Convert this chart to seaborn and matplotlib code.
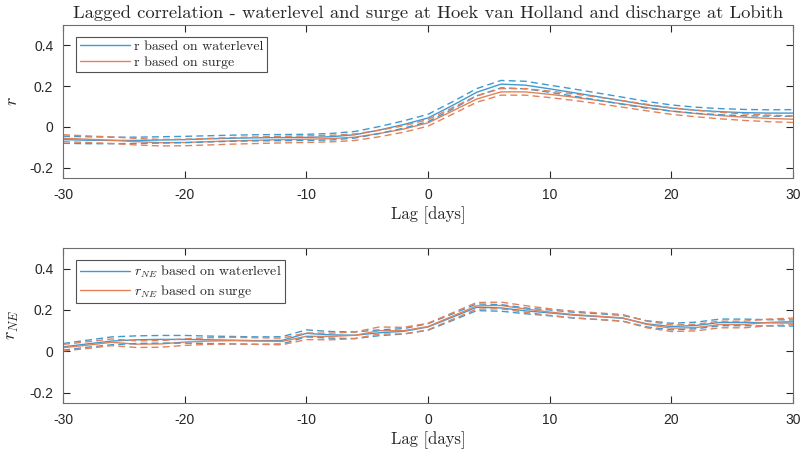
import numpy as np
import pandas as pd
import matplotlib
matplotlib.use("Agg")
import matplotlib.pyplot as plt
import seaborn as sns

lags = list(range(-30, 31, 2))

# Top panel: r
r_wl = [-0.062, -0.065, -0.066, -0.066, -0.064, -0.062, -0.058, -0.055, -0.053, -0.052, -0.051,
        -0.048, -0.038, -0.015, 0.012, 0.044, 0.105, 0.170, 0.210, 0.205, 0.187, 0.168, 0.148,
        0.128, 0.108, 0.093, 0.082, 0.075, 0.070, 0.068, 0.068]
r_wl_up = [-0.045, -0.048, -0.050, -0.050, -0.048, -0.046, -0.043, -0.040, -0.038, -0.037, -0.036,
           -0.032, -0.022, 0.002, 0.030, 0.062, 0.123, 0.188, 0.228, 0.224, 0.205, 0.186, 0.166,
           0.146, 0.125, 0.108, 0.097, 0.090, 0.086, 0.084, 0.085]
r_wl_lo = [-0.080, -0.082, -0.082, -0.081, -0.079, -0.077, -0.073, -0.070, -0.068, -0.067, -0.066,
           -0.064, -0.054, -0.032, -0.006, 0.026, 0.087, 0.152, 0.192, 0.187, 0.170, 0.151, 0.131,
           0.111, 0.092, 0.078, 0.067, 0.060, 0.055, 0.053, 0.052]
r_su = [-0.055, -0.060, -0.065, -0.072, -0.077, -0.076, -0.072, -0.068, -0.065, -0.062, -0.060,
        -0.057, -0.050, -0.032, -0.010, 0.020, 0.078, 0.137, 0.172, 0.172, 0.160, 0.146, 0.130,
        0.113, 0.095, 0.078, 0.066, 0.056, 0.048, 0.042, 0.038]
r_su_up = [-0.038, -0.044, -0.049, -0.056, -0.061, -0.060, -0.056, -0.052, -0.049, -0.046, -0.044,
           -0.041, -0.034, -0.016, 0.006, 0.036, 0.094, 0.153, 0.188, 0.188, 0.176, 0.162, 0.146,
           0.129, 0.111, 0.094, 0.082, 0.072, 0.064, 0.058, 0.054]
r_su_lo = [-0.072, -0.076, -0.081, -0.088, -0.093, -0.092, -0.088, -0.084, -0.081, -0.078, -0.076,
           -0.073, -0.066, -0.048, -0.026, 0.004, 0.062, 0.121, 0.156, 0.156, 0.144, 0.130, 0.114,
           0.097, 0.079, 0.062, 0.050, 0.040, 0.032, 0.026, 0.022]

# Bottom panel: r_NE
rne_wl = [0.022, 0.036, 0.050, 0.056, 0.058, 0.058, 0.056, 0.054, 0.052, 0.053, 0.087,
          0.080, 0.078, 0.090, 0.097, 0.118, 0.165, 0.213, 0.210, 0.196, 0.186, 0.175, 0.168,
          0.160, 0.133, 0.120, 0.125, 0.140, 0.140, 0.138, 0.137]
rne_wl_up = [0.038, 0.054, 0.070, 0.075, 0.077, 0.077, 0.074, 0.072, 0.070, 0.071, 0.104,
             0.096, 0.094, 0.104, 0.110, 0.134, 0.181, 0.229, 0.226, 0.210, 0.200, 0.189, 0.182,
             0.174, 0.148, 0.136, 0.141, 0.156, 0.156, 0.153, 0.152]
rne_wl_lo = [0.006, 0.020, 0.032, 0.038, 0.040, 0.040, 0.038, 0.036, 0.034, 0.036, 0.070,
             0.064, 0.062, 0.076, 0.084, 0.102, 0.149, 0.197, 0.194, 0.182, 0.172, 0.161, 0.154,
             0.146, 0.118, 0.104, 0.109, 0.124, 0.124, 0.123, 0.122]
rne_su = [0.018, 0.030, 0.044, 0.035, 0.036, 0.045, 0.050, 0.052, 0.050, 0.048, 0.073,
          0.072, 0.078, 0.100, 0.100, 0.120, 0.170, 0.220, 0.222, 0.205, 0.190, 0.178, 0.170,
          0.162, 0.130, 0.112, 0.115, 0.130, 0.130, 0.140, 0.145]
rne_su_up = [0.034, 0.046, 0.060, 0.051, 0.052, 0.061, 0.066, 0.068, 0.066, 0.064, 0.089,
             0.088, 0.094, 0.118, 0.116, 0.136, 0.186, 0.236, 0.238, 0.221, 0.206, 0.194, 0.186,
             0.178, 0.146, 0.128, 0.131, 0.146, 0.146, 0.156, 0.161]
rne_su_lo = [0.002, 0.014, 0.028, 0.019, 0.020, 0.029, 0.034, 0.036, 0.034, 0.032, 0.057,
             0.056, 0.062, 0.084, 0.084, 0.104, 0.154, 0.204, 0.206, 0.189, 0.174, 0.162, 0.154,
             0.146, 0.114, 0.096, 0.099, 0.114, 0.114, 0.124, 0.129]

title = "Lagged correlation - waterlevel and surge at Hoek van Holland and discharge at Lobith"
xlabel = "Lag [days]"
xticks = [-30, -20, -10, 0, 10, 20, 30]
yticks = [-0.2, 0, 0.2, 0.4]
ytick_labels = ["-0.2", "0", "0.2", "0.4"]

BLUE = "#3f9ad2"
ORANGE = "#e2825a"

sns.set_theme(style="white")
plt.rcParams["mathtext.fontset"] = "cm"
plt.rcParams["axes.unicode_minus"] = False
plt.rcParams["font.family"] = ["Liberation Sans", "DejaVu Sans"]

fig = plt.figure(figsize=(8.03, 4.54), dpi=100)
ax1 = fig.add_axes([0.0785, 0.608, 0.909, 0.337])
ax2 = fig.add_axes([0.0785, 0.112, 0.909, 0.342])

serif = "cmr10"

def panel(ax, wl, wl_up, wl_lo, su, su_up, su_lo, lab_wl, lab_su, ylab):
    sns.lineplot(x=lags, y=wl, ax=ax, color=BLUE, lw=1.0, label=lab_wl)
    sns.lineplot(x=lags, y=su, ax=ax, color=ORANGE, lw=1.0, label=lab_su)
    for arr in (wl_up, wl_lo):
        sns.lineplot(x=lags, y=arr, ax=ax, color=BLUE, lw=1.0, linestyle=(0, (5, 3)))
    for arr in (su_up, su_lo):
        sns.lineplot(x=lags, y=arr, ax=ax, color=ORANGE, lw=1.0, linestyle=(0, (5, 3)))
    ax.set_xlim(-30, 30)
    ax.set_ylim(-0.25, 0.5)
    ax.set_xticks(xticks)
    ax.set_xticklabels([str(t) for t in xticks])
    ax.set_yticks(yticks)
    ax.set_yticklabels(ytick_labels)
    ax.tick_params(direction="in", length=5, width=0.8, colors="#262626",
                   labelsize=10, top=True, right=True, bottom=True, left=True, pad=7)
    for lbl in ax.get_xticklabels() + ax.get_yticklabels():
        lbl.set_color("#262626")
    for s in ax.spines.values():
        s.set_color("#6e6e6e")
        s.set_linewidth(0.8)
    ax.set_xlabel(xlabel, fontfamily=serif, fontsize=12, color="#262626", labelpad=3)
    ax.set_ylabel(ylab, fontsize=13, color="#262626", labelpad=6)
    leg = ax.legend(loc="upper left", bbox_to_anchor=(0.014, 0.94), frameon=True, fancybox=False,
                    prop={"family": serif, "size": 10}, handlelength=3.6, handletextpad=0.3,
                    borderpad=0.25, labelspacing=0.2, borderaxespad=0.2)
    leg.get_frame().set_edgecolor("#262626")
    leg.get_frame().set_linewidth(0.8)

panel(ax1, r_wl, r_wl_up, r_wl_lo, r_su, r_su_up, r_su_lo,
      "r based on waterlevel", "r based on surge", "$r$")
panel(ax2, rne_wl, rne_wl_up, rne_wl_lo, rne_su, rne_su_up, rne_su_lo,
      "$r_{NE}$ based on waterlevel", "$r_{NE}$ based on surge", "$r_{NE}$")

ax1.set_title(title, fontfamily=serif, fontsize=13.4, color="#262626", pad=5)

fig.savefig("out.png", dpi=100)
